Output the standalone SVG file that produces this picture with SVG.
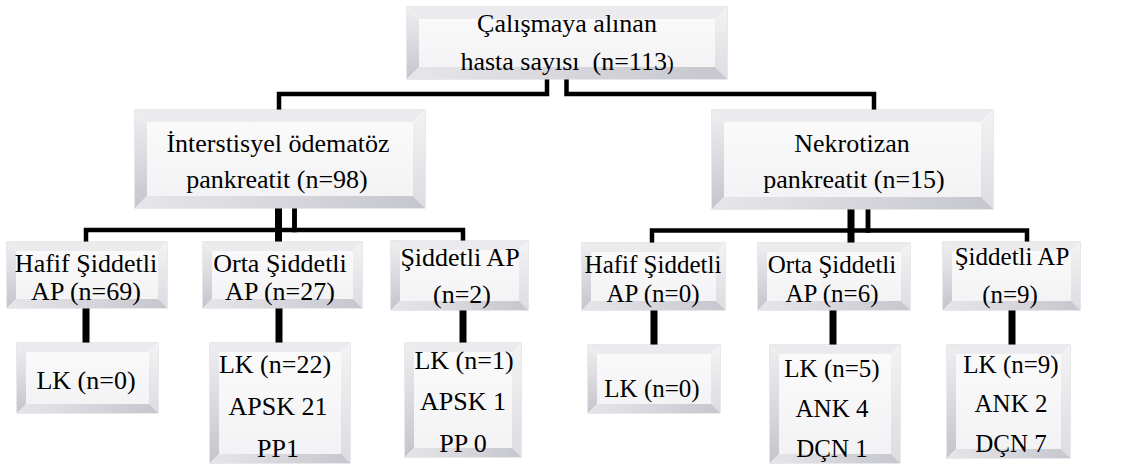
<svg xmlns="http://www.w3.org/2000/svg" width="1121" height="464" viewBox="0 0 1121 464">
<defs>
<linearGradient id="gF" x1="0" y1="0" x2="0" y2="1"><stop offset="0" stop-color="#fbfbfc"/><stop offset="1" stop-color="#f2f2f4"/></linearGradient>
<linearGradient id="gL" x1="0" y1="0" x2="0" y2="1"><stop offset="0" stop-color="#efeff2"/><stop offset="1" stop-color="#c4c4cc"/></linearGradient>
<linearGradient id="gR" x1="0" y1="0" x2="0" y2="1"><stop offset="0" stop-color="#f3f3f5"/><stop offset="1" stop-color="#dcdce1"/></linearGradient>
<linearGradient id="gB" x1="0" y1="0" x2="1" y2="0"><stop offset="0" stop-color="#e6e6ea"/><stop offset="1" stop-color="#c6c6ce"/></linearGradient>
</defs>
<style>
.bx{fill:url(#gF);stroke:#d2d2d7;stroke-width:1}
.bt{fill:#ebebee}
.bl{fill:url(#gL)}
.br{fill:url(#gR)}
.bb{fill:url(#gB)}
.t{font-size:26px;text-anchor:middle;fill:#000}
.s{font-size:25px}
.c{fill:none;stroke:#000;stroke-width:4.5}
.v{fill:none;stroke:#000;stroke-width:7}
</style>
<g id="connectors">
<path class="c" d="M547,79 V94 H279 V112"/>
<path class="c" d="M566.5,79 V94 H874 V112"/>
<path class="c" d="M294.5,208 V230 H86 V244"/>
<path class="c" d="M294.5,208 V230 H463 V244"/>
<path class="v" d="M278.5,208 V250"/>
<path class="c" d="M868,209 V230.5 H652 V245"/>
<path class="c" d="M868,209 V230.5 H1027 V244"/>
<path class="v" d="M851,209 V250"/>
<path class="v" d="M86,306 V346"/>
<path class="v" d="M279,306 V346"/>
<path class="v" d="M463,308 V346"/>
<path class="v" d="M654,308 V348"/>
<path class="v" d="M833,308 V348"/>
<path class="v" d="M1012,308 V348"/>
</g>
<g font-family="'Liberation Serif', 'Times New Roman', 'DejaVu Serif', serif">
<g id="n-top">
<rect class="bx" x="407" y="7" width="320" height="72"/>
<polygon class="bt" points="407,7 727,7 715,19 419,19"/>
<polygon class="bl" points="407,7 419,19 419,67 407,79"/>
<polygon class="br" points="727,7 727,79 715,67 715,19"/>
<polygon class="bb" points="407,79 727,79 715,67 419,67"/>
<text class="t" x="567" y="32">Çalışmaya alınan</text>
<text class="t" x="567" y="70">hasta sayısı&#160; (n=113<tspan font-size="20">)</tspan></text>
</g>
<g id="n-inter">
<rect class="bx" x="135" y="110" width="290" height="98"/>
<polygon class="bt" points="135,110 425,110 413,122 147,122"/>
<polygon class="bl" points="135,110 147,122 147,196 135,208"/>
<polygon class="br" points="425,110 425,208 413,196 413,122"/>
<polygon class="bb" points="135,208 425,208 413,196 147,196"/>
<text class="t" x="278" y="152">İnterstisyel ödematöz</text>
<text class="t" x="277" y="188">pankreatit (n=98)</text>
</g>
<g id="n-nekro">
<rect class="bx" x="712" y="110" width="281" height="99"/>
<polygon class="bt" points="712,110 993,110 981,122 724,122"/>
<polygon class="bl" points="712,110 724,122 724,197 712,209"/>
<polygon class="br" points="993,110 993,209 981,197 981,122"/>
<polygon class="bb" points="712,209 993,209 981,197 724,197"/>
<text class="t" x="852" y="152">Nekrotizan</text>
<text class="t" x="854" y="188">pankreatit (n=15)</text>
</g>
<g id="n-hafif1">
<rect class="bx" x="7" y="242" width="160" height="66"/>
<polygon class="bt" points="7,242 167,242 158,251 16,251"/>
<polygon class="bl" points="7,242 16,251 16,299 7,308"/>
<polygon class="br" points="167,242 167,308 158,299 158,251"/>
<polygon class="bb" points="7,308 167,308 158,299 16,299"/>
<text class="t" x="86" y="272">Hafif Şiddetli</text>
<text class="t" x="86" y="300">AP (n=69)</text>
</g>
<g id="n-orta1">
<rect class="bx" x="203" y="242" width="159" height="66"/>
<polygon class="bt" points="203,242 362,242 353,251 212,251"/>
<polygon class="bl" points="203,242 212,251 212,299 203,308"/>
<polygon class="br" points="362,242 362,308 353,299 353,251"/>
<polygon class="bb" points="203,308 362,308 353,299 212,299"/>
<text class="t" x="280" y="272">Orta Şiddetli</text>
<text class="t" x="280" y="300">AP (n=27)</text>
</g>
<g id="n-siddetli1">
<rect class="bx" x="391" y="241" width="137" height="69"/>
<polygon class="bt" points="391,241 528,241 519,250 400,250"/>
<polygon class="bl" points="391,241 400,250 400,301 391,310"/>
<polygon class="br" points="528,241 528,310 519,301 519,250"/>
<polygon class="bb" points="391,310 528,310 519,301 400,301"/>
<text class="t" x="460" y="266">Şiddetli AP</text>
<text class="t" x="462" y="303">(n=2)</text>
</g>
<g id="n-hafif2">
<rect class="bx" x="582" y="243" width="143" height="67"/>
<polygon class="bt" points="582,243 725,243 716,252 591,252"/>
<polygon class="bl" points="582,243 591,252 591,301 582,310"/>
<polygon class="br" points="725,243 725,310 716,301 716,252"/>
<polygon class="bb" points="582,310 725,310 716,301 591,301"/>
<text class="t s" x="653" y="273">Hafif Şiddetli</text>
<text class="t s" x="653" y="302">AP (n=0)</text>
</g>
<g id="n-orta2">
<rect class="bx" x="758" y="243" width="152" height="67"/>
<polygon class="bt" points="758,243 910,243 901,252 767,252"/>
<polygon class="bl" points="758,243 767,252 767,301 758,310"/>
<polygon class="br" points="910,243 910,310 901,301 901,252"/>
<polygon class="bb" points="758,310 910,310 901,301 767,301"/>
<text class="t s" x="832" y="273">Orta Şiddetli</text>
<text class="t s" x="832" y="302">AP (n=6)</text>
</g>
<g id="n-siddetli2">
<rect class="bx" x="943" y="242" width="137" height="68"/>
<polygon class="bt" points="943,242 1080,242 1071,251 952,251"/>
<polygon class="bl" points="943,242 952,251 952,301 943,310"/>
<polygon class="br" points="1080,242 1080,310 1071,301 1071,251"/>
<polygon class="bb" points="943,310 1080,310 1071,301 952,301"/>
<text class="t s" x="1012" y="265">Şiddetli AP</text>
<text class="t s" x="1010" y="303">(n=9)</text>
</g>
<g id="n-lk1">
<rect class="bx" x="17" y="343" width="141" height="70"/>
<polygon class="bt" points="17,343 158,343 149,352 26,352"/>
<polygon class="bl" points="17,343 26,352 26,404 17,413"/>
<polygon class="br" points="158,343 158,413 149,404 149,352"/>
<polygon class="bb" points="17,413 158,413 149,404 26,404"/>
<text class="t" x="86" y="389">LK (n=0)</text>
</g>
<g id="n-lk2">
<rect class="bx" x="210" y="343" width="140" height="120"/>
<polygon class="bt" points="210,343 350,343 341,352 219,352"/>
<polygon class="bl" points="210,343 219,352 219,454 210,463"/>
<polygon class="br" points="350,343 350,463 341,454 341,352"/>
<polygon class="bb" points="210,463 350,463 341,454 219,454"/>
<text class="t" x="275" y="373">LK (n=22)</text>
<text class="t" x="278" y="415">APSK 21</text>
<text class="t" x="278" y="457">PP1</text>
</g>
<g id="n-lk3">
<rect class="bx" x="405" y="343" width="116" height="114"/>
<polygon class="bt" points="405,343 521,343 512,352 414,352"/>
<polygon class="bl" points="405,343 414,352 414,448 405,457"/>
<polygon class="br" points="521,343 521,457 512,448 512,352"/>
<polygon class="bb" points="405,457 521,457 512,448 414,448"/>
<text class="t" x="464" y="369">LK (n=1)</text>
<text class="t" x="463" y="410">APSK 1</text>
<text class="t" x="463" y="452">PP 0</text>
</g>
<g id="n-lk4">
<rect class="bx" x="588" y="345" width="132" height="68"/>
<polygon class="bt" points="588,345 720,345 711,354 597,354"/>
<polygon class="bl" points="588,345 597,354 597,404 588,413"/>
<polygon class="br" points="720,345 720,413 711,404 711,354"/>
<polygon class="bb" points="588,413 720,413 711,404 597,404"/>
<text class="t s" x="652" y="397">LK (n=0)</text>
</g>
<g id="n-lk5">
<rect class="bx" x="770" y="345" width="130" height="118"/>
<polygon class="bt" points="770,345 900,345 891,354 779,354"/>
<polygon class="bl" points="770,345 779,354 779,454 770,463"/>
<polygon class="br" points="900,345 900,463 891,454 891,354"/>
<polygon class="bb" points="770,463 900,463 891,454 779,454"/>
<text class="t s" x="832" y="377">LK (n=5)</text>
<text class="t s" x="832" y="417">ANK 4</text>
<text class="t s" x="832" y="457">DÇN 1</text>
</g>
<g id="n-lk6">
<rect class="bx" x="947" y="345" width="123" height="113"/>
<polygon class="bt" points="947,345 1070,345 1061,354 956,354"/>
<polygon class="bl" points="947,345 956,354 956,449 947,458"/>
<polygon class="br" points="1070,345 1070,458 1061,449 1061,354"/>
<polygon class="bb" points="947,458 1070,458 1061,449 956,449"/>
<text class="t s" x="1011" y="373">LK (n=9)</text>
<text class="t s" x="1011" y="412">ANK 2</text>
<text class="t s" x="1011" y="452">DÇN 7</text>
</g>
</g>
</svg>
